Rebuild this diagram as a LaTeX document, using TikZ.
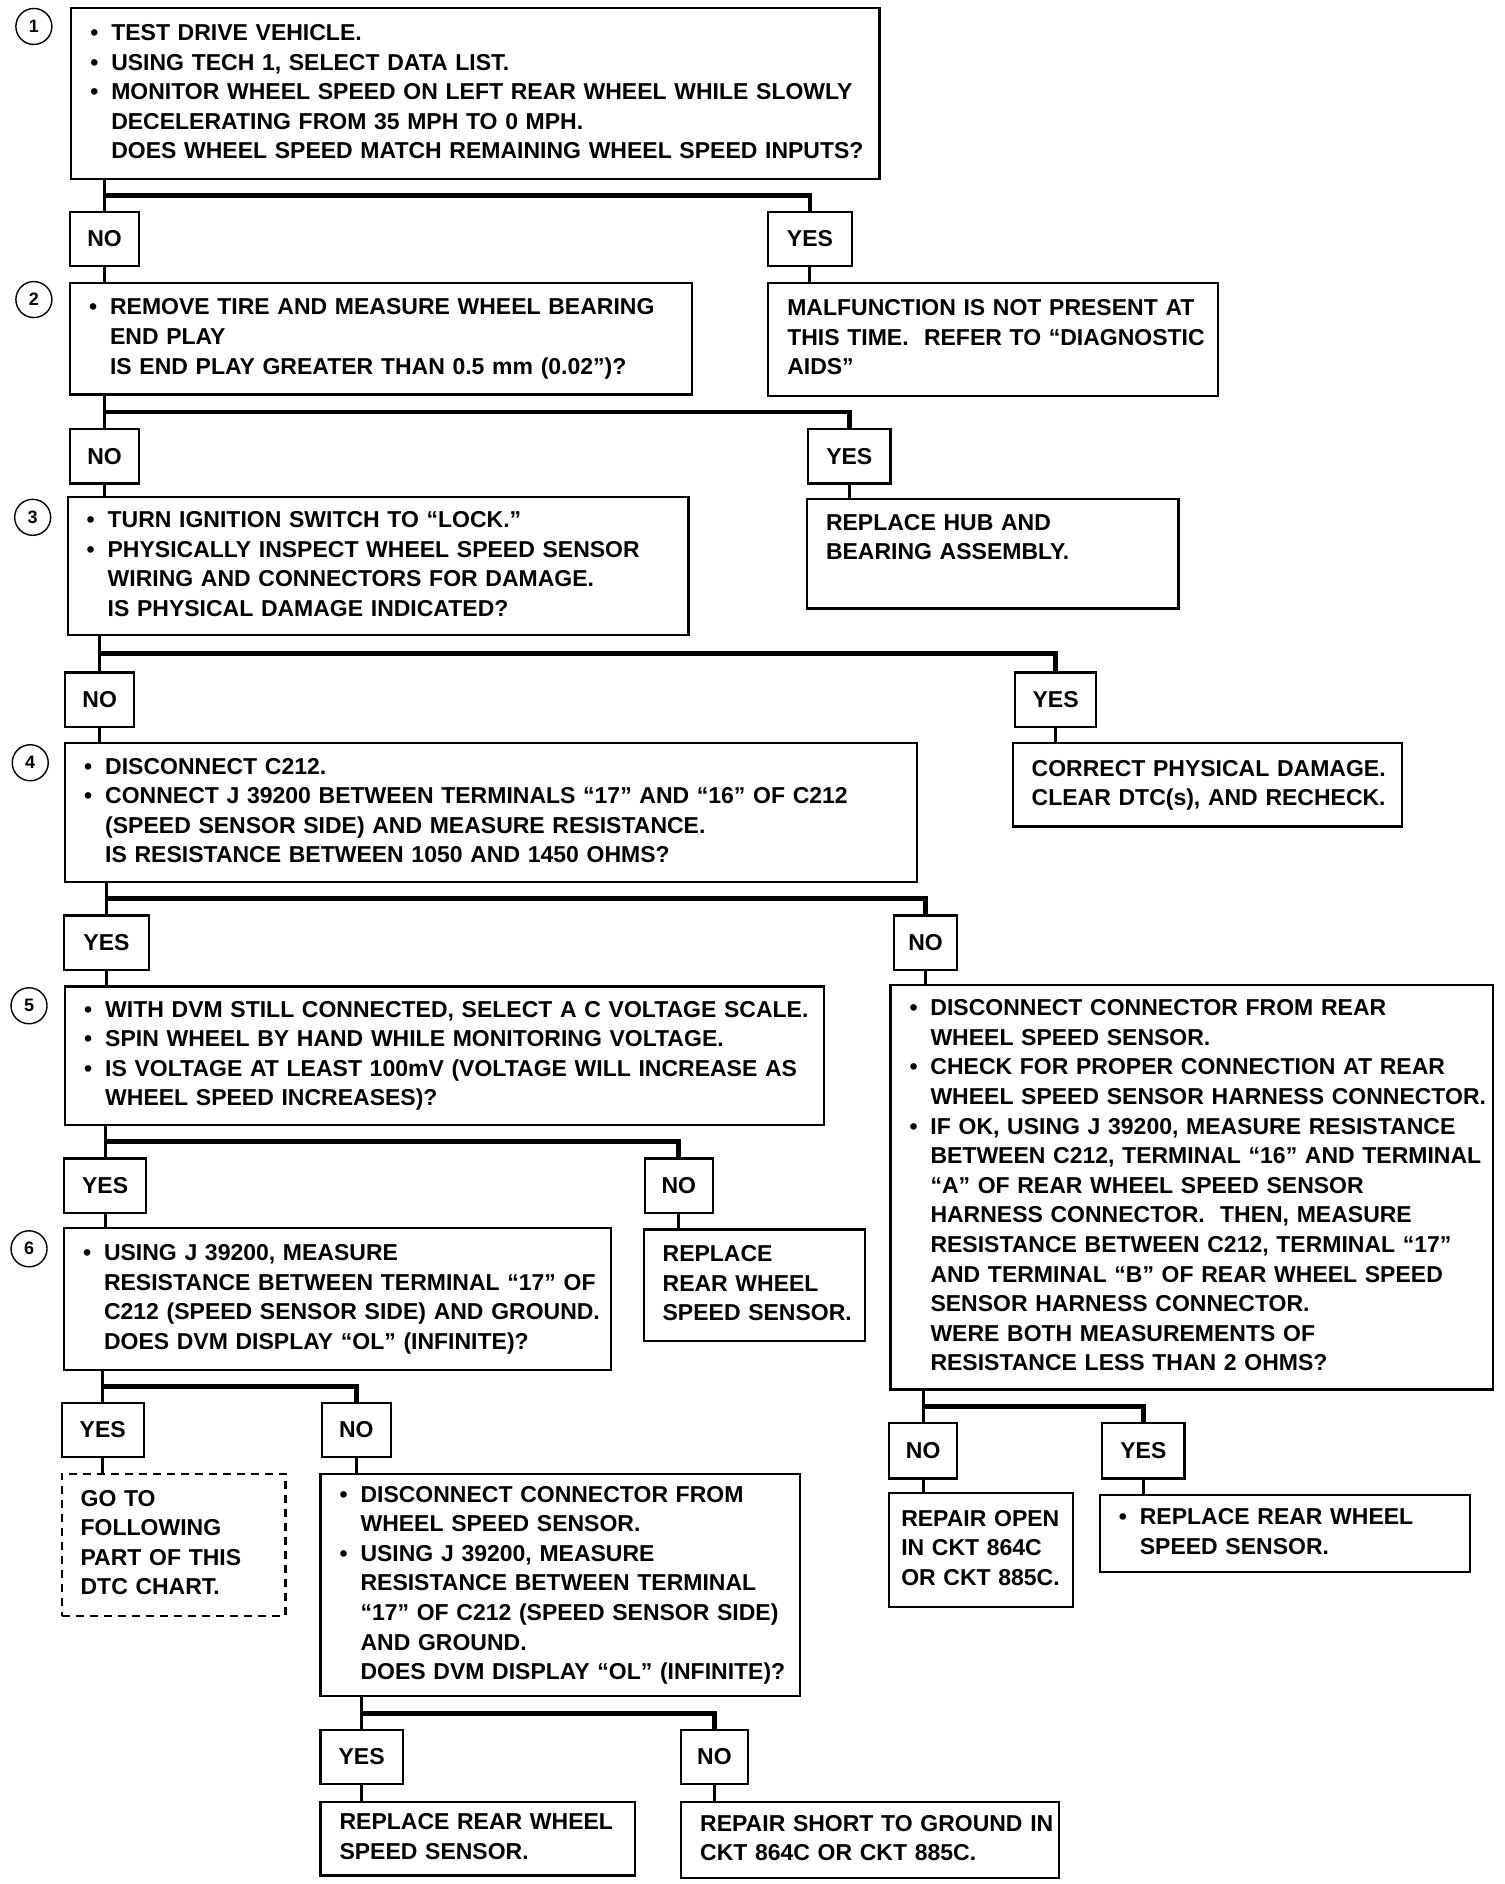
\documentclass[tikz,border=0pt]{standalone}
\usepackage{fontspec}
\setmainfont{Liberation Sans}
\usetikzlibrary{calc, positioning}

\newcommand{\bul}{\makebox[10.5pt][l]{\textbullet}}
\newcommand{\ind}{\hspace*{10.5pt}}
\newcommand{\boxlines}[1]{\begin{tabular}{@{}l@{}}#1\end{tabular}}

\tikzset{
  chartfont/.style={font=\bfseries\fontsize{11.5}{14.8}\selectfont},
  stepbox/.style={draw, line width=1.1pt, anchor=north west, inner xsep=9.5pt, inner ysep=0pt, chartfont},
  answer/.style={draw, line width=1.1pt, anchor=north west, inner sep=0pt, minimum height=27.1pt, chartfont},
  stepnum/.style={circle, draw, line width=0.7pt, minimum size=18pt, inner sep=0pt, font=\bfseries\fontsize{9}{10}\selectfont},
  stem/.style={line width=1.5pt},
  branch/.style={line width=2.4pt},
}

\begin{document}
\begin{tikzpicture}[x=0.605pt, y=-0.6015pt]
\useasboundingbox (0,0) rectangle (1243,1566);

% step 1
\node[stepnum] (num1) at (28,22) {1};
\node[stepbox, minimum width=404.1pt, minimum height=85.4pt, text width=385.1pt] (step1) at (58,6) {\boxlines{%
  \bul TEST DRIVE VEHICLE.\\
  \bul USING TECH 1, SELECT DATA LIST.\\
  \bul MONITOR WHEEL SPEED ON LEFT REAR WHEEL WHILE SLOWLY\\
  \ind DECELERATING FROM 35 MPH TO 0 MPH.\\
  \ind DOES WHEEL SPEED MATCH REMAINING WHEEL SPEED INPUTS?}};
\node[answer, minimum width=34.5pt] (no1) at (57,175) {NO};
\node[answer, minimum width=41.7pt] (yes1) at (634,175) {YES};
\node[stepbox, minimum width=225pt, minimum height=56.5pt, text width=206pt] (notpresent) at (634,234) {\boxlines{%
  MALFUNCTION IS NOT PRESENT AT\\
  THIS TIME.\ \ REFER TO ``DIAGNOSTIC\\
  AIDS''}};

% step 2
\node[stepnum] (num2) at (28,249) {2};
\node[stepbox, minimum width=311pt, minimum height=55.9pt, text width=292pt] (step2) at (57,234) {\boxlines{%
  \bul REMOVE TIRE AND MEASURE WHEEL BEARING\\
  \ind END PLAY\\
  \ind IS END PLAY GREATER THAN 0.5 mm (0.02'')?}};
\node[answer, minimum width=34.5pt] (no2) at (57,356) {NO};
\node[answer, minimum width=41.1pt] (yes2) at (667,356) {YES};
\node[stepbox, minimum width=185.7pt, minimum height=54.7pt, text width=166.7pt] (hub) at (666,414) {\boxlines{%
  REPLACE HUB AND\\
  BEARING ASSEMBLY.\\ ~}};

% step 3
\node[stepnum] (num3) at (27,430) {3};
\node[stepbox, minimum width=310.4pt, minimum height=69.2pt, text width=291.4pt] (step3) at (55,412) {\boxlines{%
  \bul TURN IGNITION SWITCH TO ``LOCK.''\\
  \bul PHYSICALLY INSPECT WHEEL SPEED SENSOR\\
  \ind WIRING AND CONNECTORS FOR DAMAGE.\\
  \ind IS PHYSICAL DAMAGE INDICATED?}};
\node[answer, minimum width=34.5pt] (no3) at (53,558) {NO};
\node[answer, minimum width=40.5pt] (yes3) at (838,558) {YES};
\node[stepbox, minimum width=194.8pt, minimum height=41.5pt, text width=175.8pt] (damage) at (836,617) {\boxlines{%
  CORRECT PHYSICAL DAMAGE.\\
  CLEAR DTC(s), AND RECHECK.}};

% step 4
\node[stepnum] (num4) at (25,634) {4};
\node[stepbox, minimum width=425.9pt, minimum height=69.2pt, text width=406.9pt] (step4) at (53,617) {\boxlines{%
  \bul DISCONNECT C212.\\
  \bul CONNECT J 39200 BETWEEN TERMINALS ``17'' AND ``16'' OF C212\\
  \ind (SPEED SENSOR SIDE) AND MEASURE RESISTANCE.\\
  \ind IS RESISTANCE BETWEEN 1050 AND 1450 OHMS?}};
\node[answer, minimum width=42.4pt] (yes4) at (52,760) {YES};
\node[answer, minimum width=31.5pt] (no4) at (738,760) {NO};
\node[stepbox, minimum width=301.3pt, minimum height=202.1pt, text width=282.3pt] (harness) at (735,818) {\boxlines{%
  \bul DISCONNECT CONNECTOR FROM REAR\\
  \ind WHEEL SPEED SENSOR.\\
  \bul CHECK FOR PROPER CONNECTION AT REAR\\
  \ind WHEEL SPEED SENSOR HARNESS CONNECTOR.\\
  \bul IF OK, USING J 39200, MEASURE RESISTANCE\\
  \ind BETWEEN C212, TERMINAL ``16'' AND TERMINAL\\
  \ind ``A'' OF REAR WHEEL SPEED SENSOR\\
  \ind HARNESS CONNECTOR.\ \ THEN, MEASURE\\
  \ind RESISTANCE BETWEEN C212, TERMINAL ``17''\\
  \ind AND TERMINAL ``B'' OF REAR WHEEL SPEED\\
  \ind SENSOR HARNESS CONNECTOR.\\
  \ind WERE BOTH MEASUREMENTS OF\\
  \ind RESISTANCE LESS THAN 2 OHMS?}};

% step 5
\node[stepnum] (num5) at (24,836) {5};
\node[stepbox, minimum width=379.3pt, minimum height=69.2pt, text width=360.3pt] (step5) at (53,819) {\boxlines{%
  \bul WITH DVM STILL CONNECTED, SELECT A C VOLTAGE SCALE.\\
  \bul SPIN WHEEL BY HAND WHILE MONITORING VOLTAGE.\\
  \bul IS VOLTAGE AT LEAST 100mV (VOLTAGE WILL INCREASE AS\\
  \ind WHEEL SPEED INCREASES)?}};
\node[answer, minimum width=41.1pt] (yes5) at (52,962) {YES};
\node[answer, minimum width=33.9pt] (no5) at (532,962) {NO};
\node[stepbox, minimum width=110.7pt, minimum height=55.9pt, text width=91.7pt] (sensor) at (531,1021) {\boxlines{%
  REPLACE\\
  REAR WHEEL\\
  SPEED SENSOR.}};

% step 6
\node[stepnum] (num6) at (24,1038) {6};
\node[stepbox, minimum width=273.5pt, minimum height=71pt, text width=254.5pt] (step6) at (52,1020) {\boxlines{%
  \bul USING J 39200, MEASURE\\
  \ind RESISTANCE BETWEEN TERMINAL ``17'' OF\\
  \ind C212 (SPEED SENSOR SIDE) AND GROUND.\\
  \ind DOES DVM DISPLAY ``OL'' (INFINITE)?}};
\node[answer, minimum width=41.1pt] (yes6) at (50,1165) {YES};
\node[answer, minimum width=34.5pt] (no6) at (265,1165) {NO};
\node[stepbox, dash pattern=on 4pt off 3pt, minimum width=111.9pt, minimum height=71pt, text width=92.9pt] (goto) at (50,1224) {\boxlines{%
  GO TO\\
  FOLLOWING\\
  PART OF THIS\\
  DTC CHART.}};
\node[stepbox, minimum width=239.6pt, minimum height=111.3pt, text width=220.6pt] (ground) at (264,1224) {\boxlines{%
  \bul DISCONNECT CONNECTOR FROM\\
  \ind WHEEL SPEED SENSOR.\\
  \bul USING J 39200, MEASURE\\
  \ind RESISTANCE BETWEEN TERMINAL\\
  \ind ``17'' OF C212 (SPEED SENSOR SIDE)\\
  \ind AND GROUND.\\
  \ind DOES DVM DISPLAY ``OL'' (INFINITE)?}};
\node[answer, minimum width=41.1pt] (yes7) at (264,1437) {YES};
\node[answer, minimum width=33.3pt] (no7) at (562,1437) {NO};
\node[stepbox, minimum width=157.3pt, minimum height=36.7pt, text width=138.3pt] (replace) at (264,1497) {\boxlines{%
  REPLACE REAR WHEEL\\
  SPEED SENSOR.}};
\node[stepbox, minimum width=188.8pt, minimum height=37.9pt, text width=169.8pt] (short) at (562,1497) {\boxlines{%
  REPAIR SHORT TO GROUND IN\\
  CKT 864C OR CKT 885C.}};

% harness check results
\node[answer, minimum width=33.9pt, minimum height=27.7pt] (no8) at (734,1182) {NO};
\node[answer, minimum width=41.1pt, minimum height=27.7pt] (yes8) at (910,1182) {YES};
\node[stepbox, inner xsep=6pt, minimum width=92pt, minimum height=57.1pt, text width=80pt] (open) at (734,1240) {\boxlines{%
  REPAIR OPEN\\
  IN CKT 864C\\
  OR CKT 885C.}};
\node[stepbox, minimum width=185.1pt, minimum height=38.5pt, text width=166.1pt] (sensorb) at (908,1242) {\boxlines{%
  \bul REPLACE REAR WHEEL\\
  \ind SPEED SENSOR.}};

% connectors
\draw[stem] (step1.south -| no1) -- (no1);
\draw[branch] ($(step1.south -| no1)!0.5!(no1.north)$) -| (yes1);
\draw[stem] (no1) -- (step2.north -| no1);
\draw[stem] (yes1) -- (notpresent.north -| yes1);

\draw[stem] (step2.south -| no2) -- (no2);
\draw[branch] ($(step2.south -| no2)!0.5!(no2.north)$) -| (yes2);
\draw[stem] (no2) -- (step3.north -| no2);
\draw[stem] (yes2) -- (hub.north -| yes2);

\draw[stem] (step3.south -| no3) -- (no3);
\draw[branch] ($(step3.south -| no3)!0.5!(no3.north)$) -| (yes3);
\draw[stem] (no3) -- (step4.north -| no3);
\draw[stem] (yes3) -- (damage.north -| yes3);

\draw[stem] (step4.south -| yes4) -- (yes4);
\draw[branch] ($(step4.south -| yes4)!0.5!(yes4.north)$) -| (no4);
\draw[stem] (yes4) -- (step5.north -| yes4);
\draw[stem] (no4) -- (harness.north -| no4);

\draw[stem] (step5.south -| yes5) -- (yes5);
\draw[branch] ($(step5.south -| yes5)!0.5!(yes5.north)$) -| (no5);
\draw[stem] (yes5) -- (step6.north -| yes5);
\draw[stem] (no5) -- (sensor.north -| no5);

\draw[stem] (step6.south -| yes6) -- (yes6);
\draw[branch] ($(step6.south -| yes6)!0.5!(yes6.north)$) -| (no6);
\draw[stem] (yes6) -- (goto.north -| yes6);
\draw[stem] (no6) -- (ground.north -| no6);

\draw[stem] (ground.south -| yes7) -- (yes7);
\draw[branch] ($(ground.south -| yes7)!0.5!(yes7.north)$) -| (no7);
\draw[stem] (yes7) -- (replace.north -| yes7);
\draw[stem] (no7) -- (short.north -| no7);

\draw[stem] (harness.south -| no8) -- (no8);
\draw[branch] ($(harness.south -| no8)!0.5!(no8.north)$) -| (yes8);
\draw[stem] (no8) -- (open.north -| no8);
\draw[stem] (yes8) -- (sensorb.north -| yes8);
\end{tikzpicture}
\end{document}
